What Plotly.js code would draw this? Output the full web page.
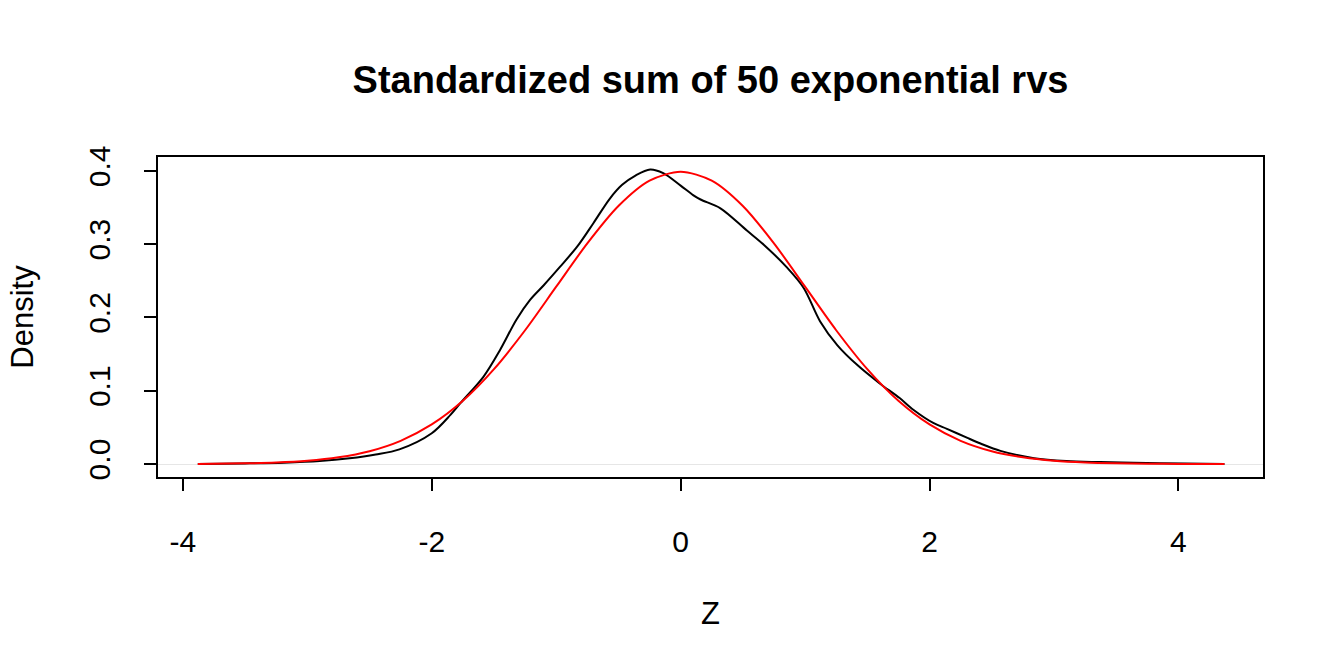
<!DOCTYPE html>
<html><head><meta charset="utf-8">
<script src="https://cdn.plot.ly/plotly-3.0.1.min.js"></script>
<style>html,body{margin:0;padding:0;background:#fff}#chart{width:1344px;height:672px}</style>
</head><body><div id="chart"></div>
<script>
// Kernel density of standardized sums (black)
const densX = [-3.88,-3.5,-3.19,-2.9,-2.66,-2.45,-2.26,-2.0,-1.85,-1.77,-1.585,-1.45,-1.32,-1.21,-1.10,-0.97,-0.83,-0.70,-0.57,-0.47,-0.36,-0.245,-0.14,0.0,0.10,0.16,0.32,0.53,0.67,0.85,0.99,1.12,1.26,1.42,1.60,1.76,1.87,2.03,2.14,2.30,2.41,2.57,2.84,3.10,3.37,3.64,4.05,4.37];
const densY = [0.0001,0.0008,0.0018,0.004,0.0078,0.013,0.020,0.042,0.067,0.083,0.119,0.156,0.197,0.224,0.244,0.269,0.297,0.329,0.362,0.381,0.394,0.402,0.397,0.380,0.367,0.361,0.349,0.319,0.299,0.269,0.240,0.195,0.162,0.135,0.110,0.090,0.074,0.056,0.048,0.036,0.028,0.018,0.008,0.004,0.0027,0.0018,0.0006,0.0001];
// Standard normal reference curve (red)
const normX = [-3.88,-3.5,-3.25,-3.0,-2.75,-2.5,-2.25,-2.0,-1.75,-1.5,-1.25,-1.0,-0.75,-0.5,-0.25,0.0,0.25,0.5,0.75,1.0,1.25,1.5,1.75,2.0,2.25,2.5,2.75,3.0,3.25,3.5,3.75,4.0,4.37];
const normY = [0.0002,0.0009,0.0020,0.0044,0.0091,0.0175,0.0317,0.0540,0.0863,0.1295,0.1826,0.2420,0.3011,0.3521,0.3867,0.3989,0.3867,0.3521,0.3011,0.2420,0.1826,0.1295,0.0863,0.0540,0.0317,0.0175,0.0091,0.0044,0.0020,0.0009,0.0004,0.0001,0.0000];
const xTicks = [-4,-2,0,2,4];
const xTickText = ["-4","-2","0","2","4"];
const yTicks = [0,0.1,0.2,0.3,0.4];
const yTickText = ["0.0","0.1","0.2","0.3","0.4"];

const font = "Liberation Sans, Arial, sans-serif";
const data = [
  {x: densX, y: densY, type:'scatter', mode:'lines', line:{color:'#000', width:2, shape:'spline', smoothing:0.9}, hoverinfo:'skip'},
  {x: normX, y: normY, type:'scatter', mode:'lines', line:{color:'#ff0000', width:2, shape:'spline', smoothing:0.8}, hoverinfo:'skip'}
];
const layout = {
  width:1344, height:672, showlegend:false,
  paper_bgcolor:'#fff', plot_bgcolor:'#fff',
  margin:{l:158, r:81, t:157, b:195},
  font:{family:font, color:'#000', size:30},
  title:{text:'<b>Standardized sum of 50 exponential rvs</b>', font:{family:font, size:38, color:'#000'}, x:0.5, xanchor:'center', xref:'paper', y:1-(80/672), yanchor:'middle', yref:'container'},
  xaxis:{range:[-4.2,4.68], tickvals:xTicks, ticktext:xTickText, ticks:'outside', ticklen:12, tickwidth:2, tickcolor:'#000',
    showline:true, linecolor:'#000', linewidth:2, mirror:true, showgrid:false, zeroline:false,
    ticklabelstandoff:25, tickfont:{size:30},
    title:{text:'Z', font:{size:31}, standoff:45}, automargin:false},
  yaxis:{range:[-0.0177,0.419], tickvals:yTicks, ticktext:yTickText, ticks:'outside', ticklen:12, tickwidth:2, tickcolor:'#000',
    showline:true, linecolor:'#000', linewidth:2, mirror:true, showgrid:false,
    zeroline:true, zerolinecolor:'#e6e6e6', zerolinewidth:1,
    tickangle:-90, ticklabelstandoff:22, tickfont:{size:30},
    title:{text:'Density', font:{size:31}, standoff:40}, automargin:false}
};
Plotly.newPlot('chart', data, layout, {staticPlot:true});
</script></body></html>
